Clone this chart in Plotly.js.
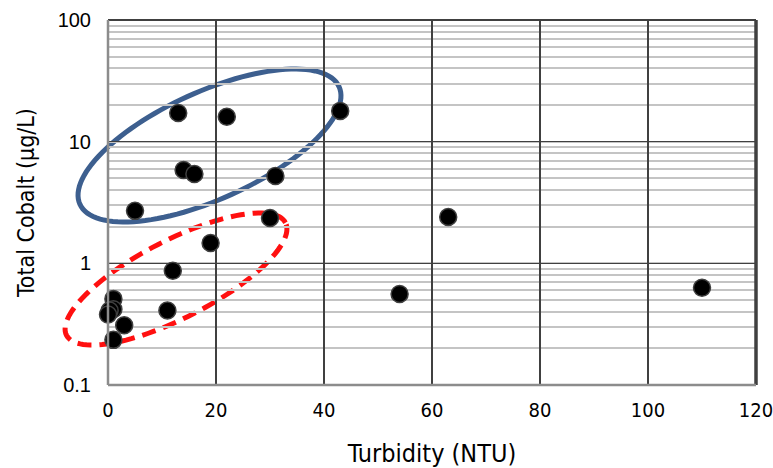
<!DOCTYPE html>
<html>
<head>
<meta charset="utf-8">
<script src="https://cdn.plot.ly/plotly-3.0.1.min.js"></script>
<style>html,body{margin:0;padding:0;background:#fff;}#chart{width:773px;height:468px;}</style>
</head>
<body>
<div id="chart"></div>
<script>
// Data
const turbidity = [13, 22, 43, 14, 16, 31, 5, 30, 19, 12, 11, 1, 1, 0.3, 0, 3, 1, 54, 63, 110];
const cobalt    = [17.2, 16.0, 17.9, 5.85, 5.43, 5.23, 2.7, 2.36, 1.47, 0.87, 0.41, 0.51, 0.42, 0.41, 0.38, 0.31, 0.235, 0.56, 2.4, 0.63];
const xTickVals = [0, 20, 40, 60, 80, 100, 120];
const yTickVals = [0.1, 1, 10, 100];
const yTickText = ["0.1", "1", "10", "100"];

// Layout geometry (pixels)
const W = 773, H = 468;
const M = {l: 108, r: 17, t: 20, b: 83};
const PW = W - M.l - M.r, PH = H - M.t - M.b;

// Ellipse outline (pixel centre, semi-axes, tilt in degrees) -> paper path
function ellipsePath(cx, cy, a, b, deg) {
  const th = deg * Math.PI / 180;
  let d = "";
  const n = 120;
  for (let i = 0; i <= n; i++) {
    const t = 2 * Math.PI * i / n;
    const px = cx + a * Math.cos(t) * Math.cos(th) - b * Math.sin(t) * Math.sin(th);
    const py = cy - (a * Math.cos(t) * Math.sin(th) + b * Math.sin(t) * Math.cos(th));
    const xp = (px - M.l) / PW;
    const yp = (M.t + PH - py) / PH;
    d += (i === 0 ? "M" : "L") + xp.toFixed(5) + "," + yp.toFixed(5);
  }
  return d + "Z";
}

const trace = {
  x: turbidity, y: cobalt, type: "scatter", mode: "markers",
  cliponaxis: false,
  marker: {size: 17, color: "#000000", line: {color: "#404040", width: 1.5}},
  hoverinfo: "x+y"
};

const narrow = "'Liberation Sans Narrow', 'DejaVu Sans Condensed', sans-serif";

const layout = {
  width: W, height: H,
  margin: M,
  paper_bgcolor: "#fff", plot_bgcolor: "#fff",
  showlegend: false,
  xaxis: {
    range: [0, 120], tickvals: xTickVals, ticktext: xTickVals.map(String),
    showgrid: true, gridcolor: "#404040", gridwidth: 1.5,
    zeroline: false, showline: false, ticks: "",
    tickfont: {family: narrow, size: 20, color: "#000"},
    ticklabelstandoff: 11, ticklabeloverflow: "allow",
    title: {text: "Turbidity (NTU)", font: {family: narrow, size: 25, color: "#000"}, standoff: 25},
    automargin: false, fixedrange: true
  },
  yaxis: {
    type: "log", range: [-1, 2], tickvals: yTickVals, ticktext: yTickText,
    showgrid: true, gridcolor: "#404040", gridwidth: 1.5,
    minor: {dtick: "D1", showgrid: true, gridcolor: "#c4c4c4", gridwidth: 2, ticks: ""},
    zeroline: false, showline: false, ticks: "",
    tickfont: {family: "'Liberation Sans', Arial, sans-serif", size: 20, color: "#000"},
    ticklabelstandoff: 16,
    title: {text: "Total Cobalt (µg/L)", font: {family: narrow, size: 23, color: "#000"}, standoff: 16},
    automargin: false, fixedrange: true
  },
  shapes: [
    // plot frame
    {type: "line", xref: "paper", yref: "paper", x0: 0, x1: 1, y0: 1, y1: 1, line: {color: "#404040", width: 2}},
    {type: "line", xref: "paper", yref: "paper", x0: 1, x1: 1, y0: 0, y1: 1, line: {color: "#404040", width: 3.5}},
    {type: "line", xref: "paper", yref: "paper", x0: 0, x1: 0, y0: 0, y1: 1, line: {color: "#8c8c8c", width: 2.5}},
    {type: "line", xref: "paper", yref: "paper", x0: 0, x1: 1, y0: 0, y1: 0, line: {color: "#8c8c8c", width: 2.5}},
    // grouping ellipses
    {type: "path", xref: "paper", yref: "paper", layer: "below",
     path: ellipsePath(209.5, 145.5, 142.3, 53.7, 24.4),
     line: {color: "#3d5f8f", width: 5}},
    {type: "path", xref: "paper", yref: "paper", layer: "below",
     path: ellipsePath(176, 279, 123.1, 38.9, 27.2),
     line: {color: "#ff1010", width: 5, dash: "14px,8px"}}
  ]
};

Plotly.newPlot("chart", [trace], layout, {displayModeBar: false, staticPlot: true});
</script>
</body>
</html>
